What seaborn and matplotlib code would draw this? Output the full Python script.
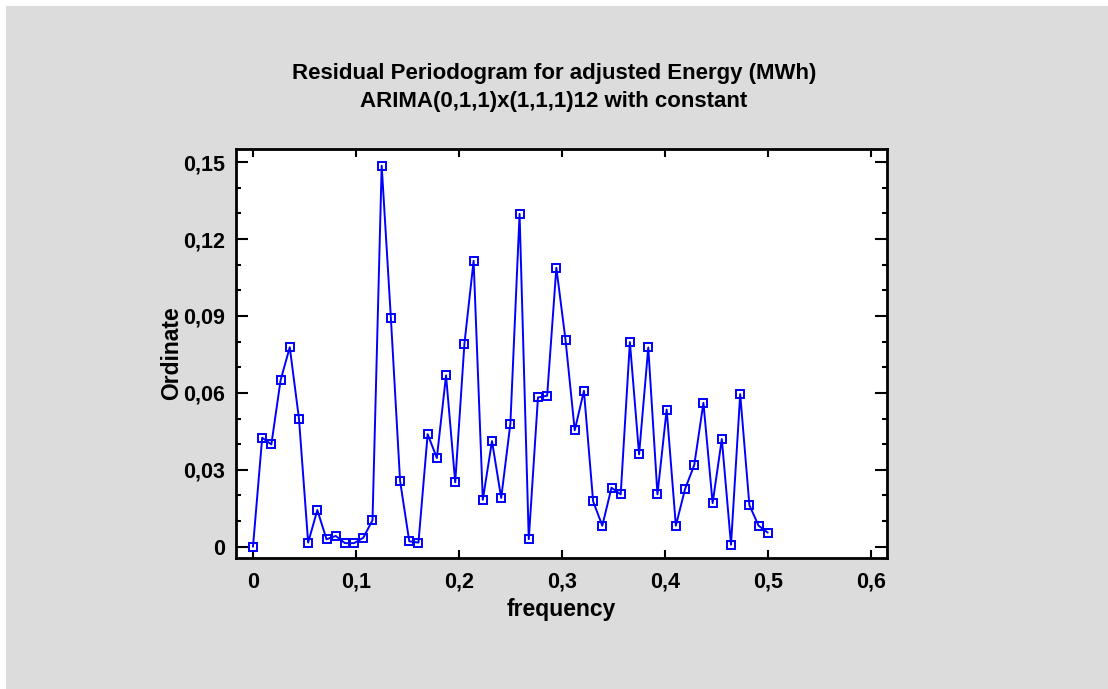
import matplotlib
matplotlib.use("Agg")
import matplotlib.pyplot as plt
from matplotlib.ticker import FuncFormatter, MultipleLocator
from matplotlib.patches import Rectangle
import seaborn as sns
import pandas as pd
import numpy as np

n_points = 57
frequency = [i / 112 for i in range(n_points)]
ordinate = [0.0000, 0.0425, 0.0399, 0.0649, 0.0778, 0.0500, 0.0016, 0.0143,
            0.0029, 0.0042, 0.0014, 0.0014, 0.0035, 0.0103, 0.1486, 0.0892,
            0.0257, 0.0021, 0.0016, 0.0439, 0.0346, 0.0668, 0.0251, 0.0792,
            0.1115, 0.0183, 0.0412, 0.0190, 0.0480, 0.1298, 0.0029, 0.0582,
            0.0589, 0.1088, 0.0806, 0.0454, 0.0608, 0.0177, 0.0082, 0.0230,
            0.0204, 0.0798, 0.0360, 0.0777, 0.0204, 0.0535, 0.0082, 0.0225,
            0.0318, 0.0561, 0.0170, 0.0420, 0.0008, 0.0595, 0.0162, 0.0082,
            0.0055]
title_lines = ["Residual Periodogram for adjusted Energy (MWh)",
               "ARIMA(0,1,1)x(1,1,1)12 with constant"]
x_label = "frequency"
y_label = "Ordinate"

df = pd.DataFrame({"frequency": frequency, "ordinate": ordinate})

sns.set_style("white")
plt.rcParams["font.family"] = ["Liberation Sans", "DejaVu Sans"]
plt.rcParams["font.weight"] = "bold"
plt.rcParams["text.color"] = "black"
plt.rcParams["axes.labelcolor"] = "black"
plt.rcParams["xtick.color"] = "black"
plt.rcParams["ytick.color"] = "black"

W, H = 1108, 689
fig = plt.figure(figsize=(W / 100, H / 100), dpi=100, facecolor="white")
bg = "#DCDCDC"
fig.patches.append(Rectangle((6 / W, 0), 1 - 6 / W, 1 - 6 / H, transform=fig.transFigure,
                             facecolor=bg, edgecolor="none", zorder=-10))

left, right, top, bottom = 236, 887, 149, 558
ax = fig.add_axes([left / W, 1 - bottom / H, (right - left) / W, (bottom - top) / H])
ax.set_facecolor("white")

sns.lineplot(data=df, x="frequency", y="ordinate", ax=ax, color="#0000FF",
             linewidth=1.4, marker="s", markersize=6, markerfacecolor="none",
             markeredgecolor="#0000FF", markeredgewidth=1.4, estimator=None)

ax.set_xlim(-0.0165, 0.6158)
ax.set_ylim(-0.0044, 0.1551)
ax.xaxis.set_major_locator(MultipleLocator(0.1))
ax.yaxis.set_major_locator(MultipleLocator(0.03))
ax.yaxis.set_minor_locator(MultipleLocator(0.01))

def comma_fmt(v, pos):
    s = f"{round(v, 4):g}"
    if s in ("-0",):
        s = "0"
    return s.replace(".", ",")

ax.xaxis.set_major_formatter(FuncFormatter(comma_fmt))
ax.yaxis.set_major_formatter(FuncFormatter(comma_fmt))

ax.tick_params(axis="x", which="major", direction="in", length=6, width=1.5,
               top=True, bottom=True, labelsize=15.5, pad=10, colors="black")
ax.tick_params(axis="y", which="major", direction="in", length=8.5, width=1.5,
               left=True, right=True, labelsize=15.5, pad=8, colors="black")
ax.tick_params(axis="y", which="minor", direction="in", length=3.5, width=1.5,
               left=True, right=True)
for lab in ax.get_xticklabels() + ax.get_yticklabels():
    lab.set_fontweight("bold")

for sp in ax.spines.values():
    sp.set_visible(True)
    sp.set_color("black")
    sp.set_linewidth(2)

ax.set_xlabel(x_label, fontsize=16.5, fontweight="bold", labelpad=4)
ax.set_ylabel(y_label, fontsize=16.5, fontweight="bold", labelpad=0)

fig.text(0.5, 1 - 73 / H, title_lines[0], ha="center", va="center",
         fontsize=16, fontweight="bold")
fig.text(0.5, 1 - 101 / H, title_lines[1], ha="center", va="center",
         fontsize=16, fontweight="bold")

fig.savefig("out.png", dpi=100, facecolor="white")
